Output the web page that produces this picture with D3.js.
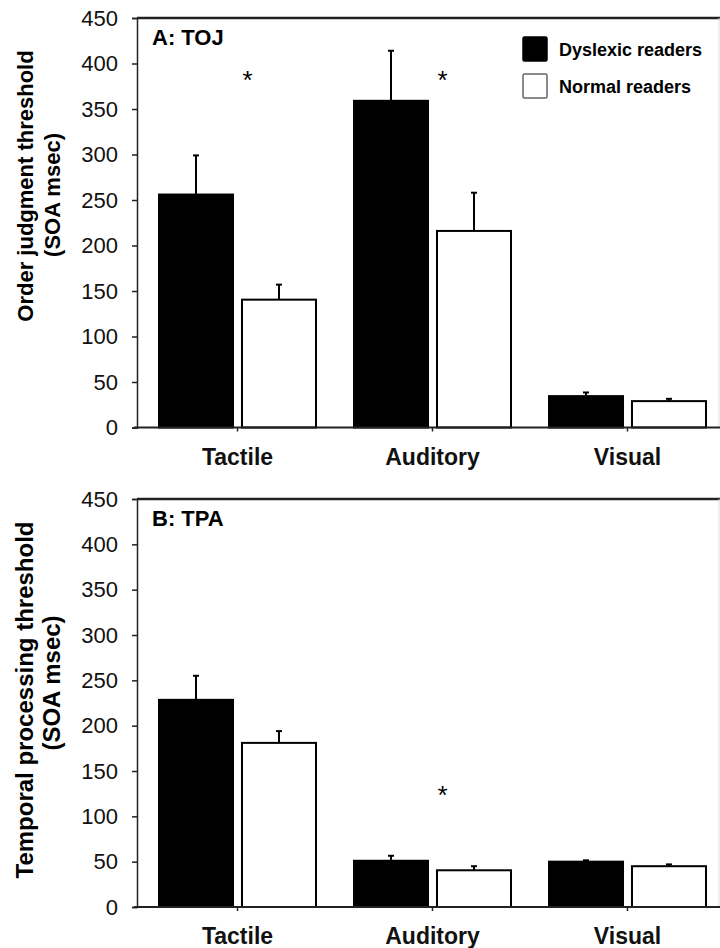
<!DOCTYPE html>
<html lang="en">
<head>
<meta charset="utf-8">
<title>TOJ / TPA thresholds</title>
<script src="https://d3js.org/d3.v7.min.js"></script>
<style>
  body { margin: 0; background: #fff; }
  svg { display: block; font-family: "Liberation Sans", Arial, Helvetica, sans-serif; }
</style>
</head>
<body>
<script>
"use strict";

// data
const categories = ["Tactile", "Auditory", "Visual"];
const series = ["Dyslexic readers", "Normal readers"];
const yTicks = [0, 50, 100, 150, 200, 250, 300, 350, 400, 450];

// panel A: order judgment (TOJ)
const tojDyslexic = [256, 359, 34.5];
const tojDyslexicErr = [43, 55, 4];
const tojNormal = [140.5, 216, 29];
const tojNormalErr = [16.5, 42, 2.5];
const tojStars = [{cat: "Tactile", v: 387}, {cat: "Auditory", v: 387}];

// panel B: temporal processing (TPA)
const tpaDyslexic = [228.5, 51, 50];
const tpaDyslexicErr = [26.5, 5.5, 1.5];
const tpaNormal = [181, 40.5, 45];
const tpaNormalErr = [13, 4.5, 2];
const tpaStars = [{cat: "Auditory", v: 129}];

const w = 720, h = 948;
const left = 137, right = 719;

const svg = d3.select("body").append("svg")
    .attr("width", w)
    .attr("height", h);

const x0 = d3.scaleBand().domain(categories).range([140, 725]);
const x1 = d3.scaleBand().domain(series).range([0, x0.bandwidth()])
    .paddingInner(0.084).paddingOuter(0.217);

const fills = {"Dyslexic readers": "#000", "Normal readers": "#fff"};

function panel(opt) {
  const y = d3.scaleLinear().domain([0, 450]).range([opt.bottom, opt.top]);
  const g = svg.append("g");

  // frame: heavy top line, faint right edge
  g.append("line")
    .attr("x1", left).attr("x2", w).attr("y1", opt.top).attr("y2", opt.top)
    .attr("stroke", "#222").attr("stroke-width", 2.5);
  g.append("line")
    .attr("x1", right).attr("x2", right).attr("y1", opt.top).attr("y2", opt.bottom)
    .attr("stroke", "#ddd").attr("stroke-width", 1);

  const rows = categories.map((c, i) => ({
    cat: c,
    vals: [
      {s: series[0], v: opt.dys[i], e: opt.dysErr[i]},
      {s: series[1], v: opt.nor[i], e: opt.norErr[i]}
    ]
  }));

  const grp = g.selectAll(".cat").data(rows).enter().append("g")
    .attr("transform", d => "translate(" + x0(d.cat) + ",0)");

  const bars = grp.selectAll(".bar").data(d => d.vals).enter();

  // error bars (upper only)
  bars.append("line")
    .attr("x1", d => x1(d.s) + x1.bandwidth() / 2)
    .attr("x2", d => x1(d.s) + x1.bandwidth() / 2)
    .attr("y1", d => y(d.v))
    .attr("y2", d => y(d.v + d.e))
    .attr("stroke", "#000").attr("stroke-width", 2);
  bars.append("line")
    .attr("x1", d => x1(d.s) + x1.bandwidth() / 2 - 3)
    .attr("x2", d => x1(d.s) + x1.bandwidth() / 2 + 3)
    .attr("y1", d => y(d.v + d.e))
    .attr("y2", d => y(d.v + d.e))
    .attr("stroke", "#000").attr("stroke-width", 2);

  bars.append("rect")
    .attr("x", d => x1(d.s) + 1)
    .attr("width", x1.bandwidth() - 2)
    .attr("y", d => y(d.v))
    .attr("height", d => y(0) - y(d.v))
    .attr("fill", d => fills[d.s])
    .attr("stroke", "#000")
    .attr("stroke-width", 2);

  // y axis with minor ticks
  const yAxis = g.append("g").attr("transform", "translate(" + left + ",0)");
  yAxis.call(d3.axisLeft(y).tickValues(d3.range(25, 450, 50)).tickSize(3).tickFormat(""));
  yAxis.call(d3.axisLeft(y).tickValues(yTicks).tickSize(5).tickPadding(14));
  yAxis.selectAll(".domain").attr("stroke", "#222").attr("stroke-width", 1.5);
  yAxis.selectAll(".tick line").attr("stroke", "#222").attr("stroke-width", 1.5);
  yAxis.selectAll("text")
    .attr("font-size", 22)
    .attr("font-family", "Liberation Sans, Arial, sans-serif")
    .attr("fill", "#111");

  // x axis
  const xAxis = g.append("g").attr("transform", "translate(0," + opt.bottom + ")");
  xAxis.call(d3.axisBottom(x0).tickSize(4).tickPadding(17));
  xAxis.select(".domain").remove();
  xAxis.append("line")
    .attr("x1", left - 3).attr("x2", w).attr("y1", 0).attr("y2", 0)
    .attr("stroke", "#222").attr("stroke-width", 2);
  xAxis.selectAll(".tick line").attr("stroke", "#222").attr("stroke-width", 1.5);
  xAxis.selectAll("text")
    .attr("font-size", 23)
    .attr("font-weight", "bold")
    .attr("font-family", "Liberation Sans, Arial, sans-serif")
    .attr("fill", "#111");

  // panel label
  g.append("text")
    .attr("x", 152).attr("y", opt.top + 27)
    .attr("font-size", 22).attr("font-weight", "bold")
    .text(opt.label);

  // asterisks
  g.selectAll(".star").data(opt.stars).enter().append("text")
    .attr("x", d => x0(d.cat) + x0.bandwidth() / 2 + 10)
    .attr("y", d => y(d.v) + 14)
    .attr("text-anchor", "middle")
    .attr("font-size", 26)
    .text("*");

  // y title, two lines
  g.append("text")
    .attr("transform", "translate(33," + opt.t1 + ") rotate(-90)")
    .attr("text-anchor", "middle")
    .attr("font-size", opt.titleSize).attr("font-weight", "bold")
    .text(opt.title);
  g.append("text")
    .attr("transform", "translate(60," + opt.t2 + ") rotate(-90)")
    .attr("text-anchor", "middle")
    .attr("font-size", opt.titleSize).attr("font-weight", "bold")
    .text("(SOA msec)");

  return g;
}

const gA = panel({
  top: 18, bottom: 427.5, label: "A: TOJ",
  dys: tojDyslexic, dysErr: tojDyslexicErr, nor: tojNormal, norErr: tojNormalErr,
  stars: tojStars, title: "Order judgment threshold", titleSize: 22, t1: 186, t2: 195
});

panel({
  top: 499, bottom: 907, label: "B: TPA",
  dys: tpaDyslexic, dysErr: tpaDyslexicErr, nor: tpaNormal, norErr: tpaNormalErr,
  stars: tpaStars, title: "Temporal processing threshold", titleSize: 24, t1: 700, t2: 683
});

// legend (panel A only)
const legend = gA.selectAll(".legend").data(series).enter().append("g")
  .attr("transform", (d, i) => "translate(522," + (36 + i * 37) + ")");
legend.append("rect")
  .attr("x", 1).attr("y", 1).attr("width", 24).attr("height", 24)
  .attr("rx", 1.5)
  .attr("fill", d => fills[d])
  .attr("stroke", d => d === series[0] ? "#000" : "#666")
  .attr("stroke-width", 1.5);
legend.append("text")
  .attr("x", 37).attr("y", 20)
  .attr("font-size", 18).attr("font-weight", "bold")
  .text(d => d);
</script>
</body>
</html>
